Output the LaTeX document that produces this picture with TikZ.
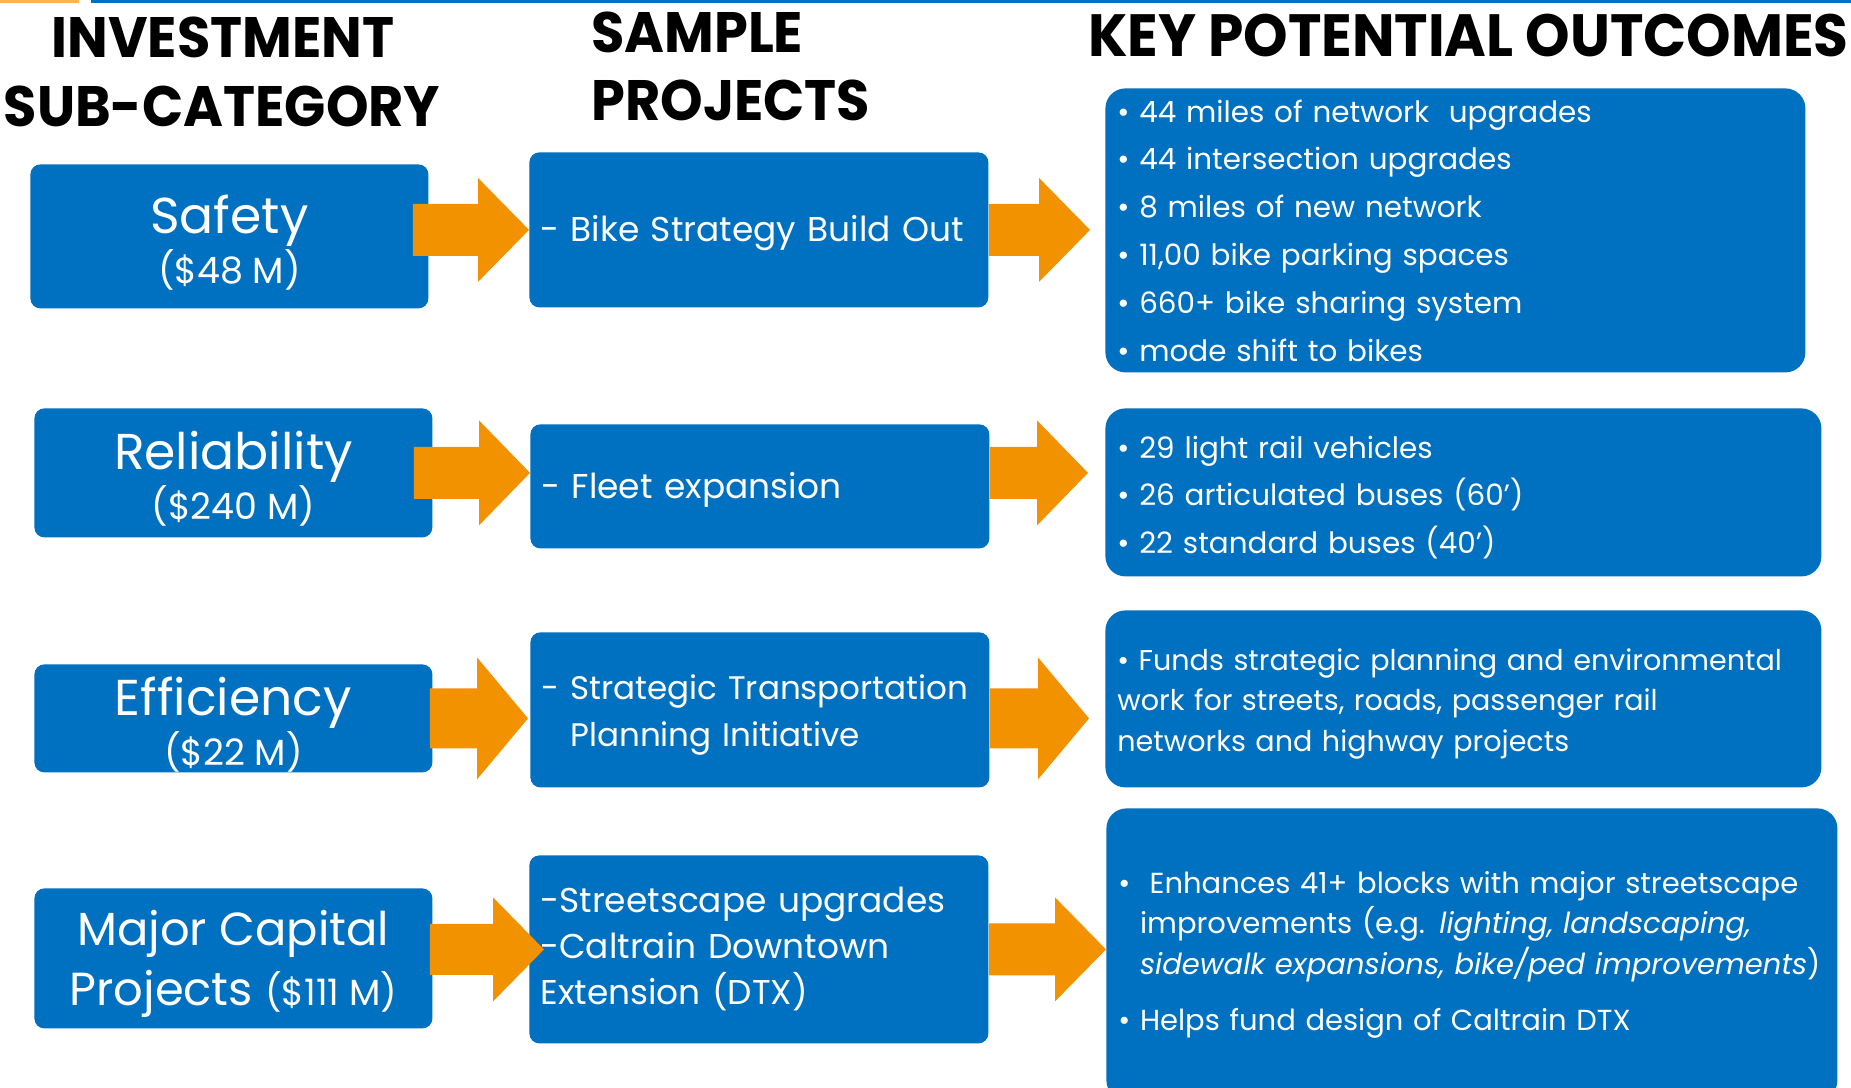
\documentclass[tikz,border=0pt]{standalone}
\usepackage{fontspec}
\setmainfont{Poppins}[Numbers=Monospaced]
\newfontfamily\headfont{Poppins}[FakeStretch=0.95]
\usetikzlibrary{positioning,calc}

\definecolor{boxblue}{HTML}{0070C0}
\definecolor{arroworange}{HTML}{F39200}
\definecolor{barorange}{HTML}{FBB54A}

% money line under a category name
\newcommand{\amount}[1]{{\fontsize{18.2}{25}\selectfont #1}}
% invisible strut that pushes a first line down a little
\newcommand{\toppad}[1]{\rule{0pt}{#1}}

% fat orange arrow: #1 node giving the height, #2 from, #3 to,
% #4 inset at the start, #5 gap before the tip, #6 half shaft, #7 half head
\newcommand{\blockarrow}[7]{%
  \coordinate (ba-s) at ($(#2.east |- #1)-(#4,0)$);
  \coordinate (ba-t) at ($(#3.west |- #1)-(#5,0)$);
  \fill[arroworange] ($(ba-s)+(0,#6)$) -- ($(ba-t)+(-51,#6)$) -- ($(ba-t)+(-51,#7)$)
    -- (ba-t) -- ($(ba-t)+(-51,-#7)$) -- ($(ba-t)+(-51,-#6)$) -- ($(ba-s)+(0,-#6)$) -- cycle;}

\begin{document}
\begin{tikzpicture}[
  x=0.5pt, y=-0.5pt,
  heading/.style={anchor=base, inner sep=0pt,
    font=\headfont\bfseries\fontsize{28.5}{30}\selectfont},
  catbox/.style={anchor=north west, fill=boxblue, rounded corners=5pt,
    text=white, align=center, inner sep=0pt, minimum width=199pt,
    font=\fontsize{25.2}{25}\selectfont},
  projbox/.style={anchor=north west, fill=boxblue, rounded corners=5pt,
    text=white, align=left, inner xsep=5.5pt, inner ysep=0pt,
    text width=218.5pt, font=\fontsize{17.2}{23}\selectfont},
  outbox/.style={anchor=north west, fill=boxblue, rounded corners=10pt,
    text=white, align=left, inner xsep=6pt, inner ysep=0pt,
    font=\fontsize{14.7}{23.9}\selectfont}
]
\useasboundingbox (0,0) rectangle (1851,1087);

% rule along the top
\fill[barorange] (0,0) rectangle (79,3);
\fill[boxblue] (91,0) rectangle (1851,3);

% column titles
\node[heading] (hinv) at (223,57) {INVESTMENT};
\node[heading] (hsub) at (222,126) {SUB-CATEGORY};
\node[heading, anchor=base west] (hsam) at (591,52) {SAMPLE};
\node[heading, anchor=base west] (hpro) at (591,120) {PROJECTS};
\node[heading, anchor=base east, font=\headfont\bfseries\fontsize{29.8}{30}\selectfont]
  (hkey) at (1849,56) {KEY POTENTIAL OUTCOMES};

% sub-categories
\node[catbox, minimum height=72pt] (safety) at (30,164) {\toppad{25pt}Safety\\\amount{(\$48 M)}};
\node[catbox, minimum height=64.5pt] (reliability) at (34,408) {\toppad{25pt}Reliability\\\amount{(\$240 M)}};
\node[catbox, minimum height=54pt] (efficiency) at (34,664) {\toppad{25pt}Efficiency\\\amount{(\$22 M)}};
\node[catbox, minimum height=70pt, font=\fontsize{23.2}{30}\selectfont] (major) at (34,888)
  {\toppad{23.5pt}Major Capital\\Projects \amount{(\$111 M)}};

% sample projects
\node[projbox, minimum height=77.5pt] (bike) at (529,152) {\toppad{16.5pt}- Bike Strategy Build Out};
\node[projbox, minimum height=62pt] (fleet) at (530,424) {\toppad{16.5pt}- Fleet expansion};
\node[projbox, minimum height=77.5pt, font=\fontsize{16.3}{23.5}\selectfont] (strategic) at (530,632)
  {\toppad{17.5pt}\mbox{- Strategic Transportation}\\\hphantom{- }Planning Initiative};
\node[projbox, minimum height=94pt] (streetscape) at (529,855)
  {-Streetscape upgrades\\-Caltrain Downtown\\Extension (DTX)};

% outcomes
\node[outbox, text width=338pt, minimum height=142pt] (out1) at (1105,88)
  {• 44 miles of network~ upgrades\\• 44 intersection upgrades\\• 8 miles of new network\\%
   • 11,00 bike parking spaces\\• 660+ bike sharing system\\• mode shift to bikes};
\node[outbox, text width=346pt, minimum height=84pt, font=\fontsize{14.7}{23.75}\selectfont] (out2) at (1105,408)
  {\toppad{16pt}• 29 light rail vehicles\\• 26 articulated buses (60’)\\• 22 standard buses (40’)};
\node[outbox, text width=346pt, minimum height=88.5pt, font=\fontsize{14.3}{20.25}\selectfont] (out3) at (1105,610)
  {\toppad{15.6pt}• Funds strategic planning and environmental\\work for streets, roads, passenger rail\\%
   networks and highway projects};
\node[outbox, text width=353.5pt, minimum height=146pt, font=\fontsize{14.5}{20.25}\selectfont] (out4) at (1106,808)
  {•\ \ Enhances 41+ blocks with major streetscape\\%
   \hphantom{•\ }improvements (e.g. \textit{lighting, landscaping,}\\%
   \hphantom{•\ }\textit{sidewalk expansions, bike/ped improvements})\\[7.75pt]%
   • Helps fund design of Caltrain DTX};

% arrows between the columns
\blockarrow{bike}{safety}{bike}{16}{0}{26}{52}
\blockarrow{bike}{bike}{out1}{0}{15}{26}{52}
\blockarrow{reliability}{reliability}{fleet}{19}{0}{26}{52.5}
\blockarrow{reliability}{fleet}{out2}{0}{17}{26}{52.5}
\blockarrow{efficiency}{efficiency}{strategic}{3}{2}{30}{61}
\blockarrow{efficiency}{strategic}{out3}{0}{16}{30}{61}
\blockarrow{streetscape}{major}{streetscape}{3}{-15}{25.5}{52}
\blockarrow{streetscape}{streetscape}{out4}{0}{0}{26}{52}
\end{tikzpicture}
\end{document}
